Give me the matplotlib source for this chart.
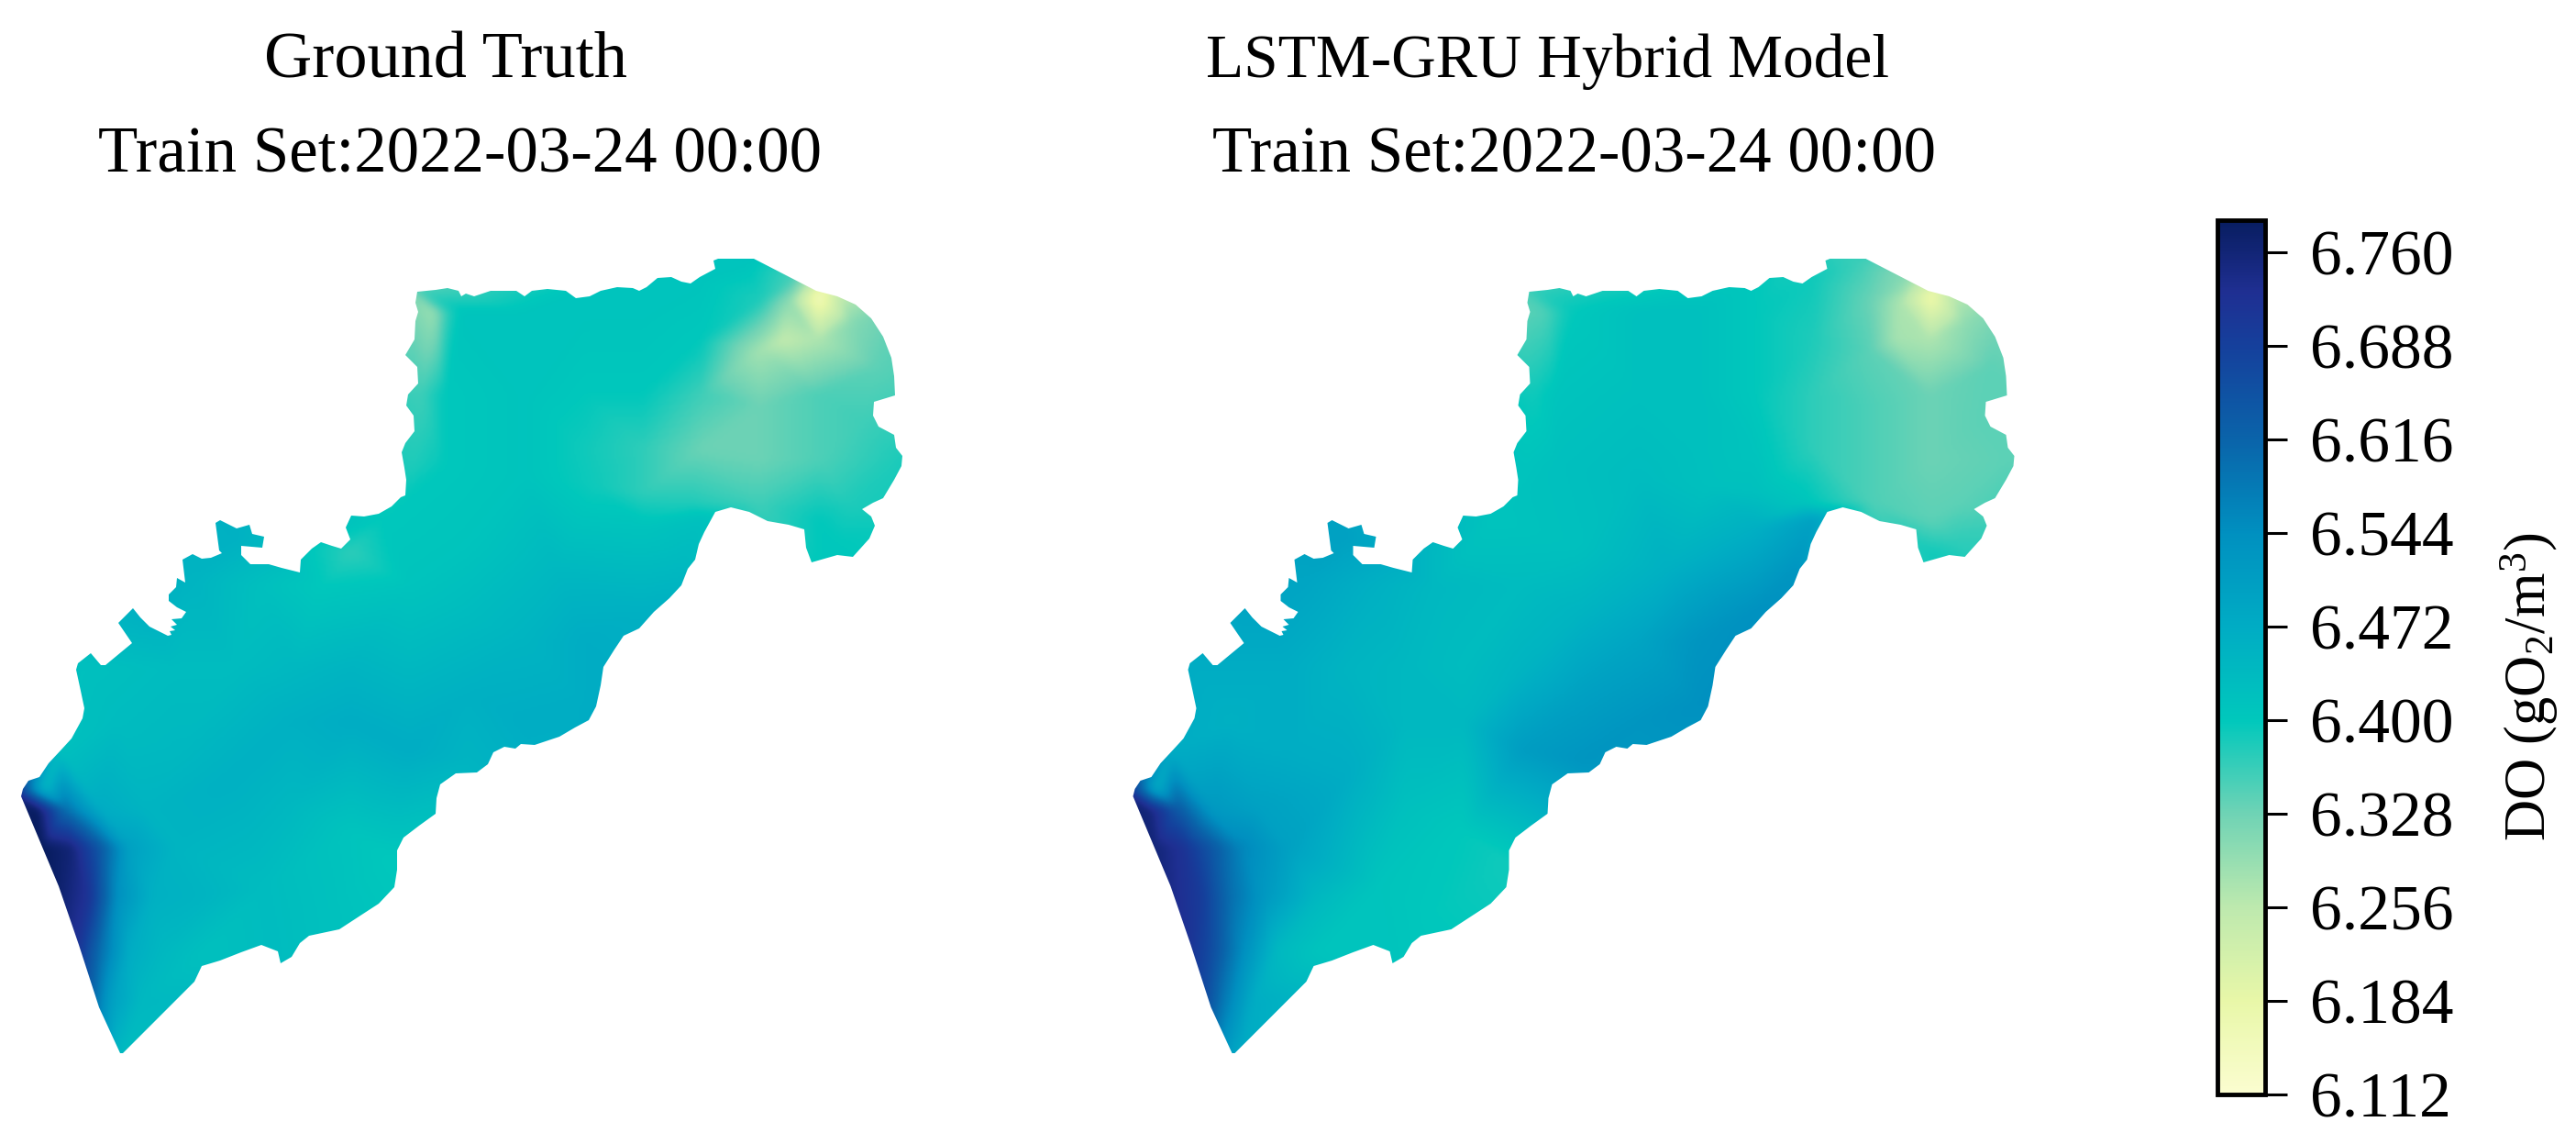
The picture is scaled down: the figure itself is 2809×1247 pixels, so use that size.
import numpy as np
import matplotlib
matplotlib.use("Agg")
import matplotlib.pyplot as plt
import matplotlib.tri as mtri
from matplotlib.colors import LinearSegmentedColormap, Normalize
from matplotlib.cm import ScalarMappable
from matplotlib.patches import Polygon

plt.rcParams['font.family'] = ['Liberation Serif', 'DejaVu Serif']
plt.rcParams['mathtext.default'] = 'regular'

W, H = 2809, 1247

titles_top = ["Ground Truth", "LSTM-GRU Hybrid Model"]
title_bottom = "Train Set:2022-03-24 00:00"
cbar_label = r"DO (gO$_2$/m$^3$)"
tick_values = [6.112, 6.184, 6.256, 6.328, 6.400, 6.472, 6.544, 6.616, 6.688, 6.760]
vmin, vmax = 6.112, 6.785

cmap_values = [6.112, 6.184, 6.256, 6.328, 6.400, 6.472, 6.544, 6.616, 6.688, 6.730, 6.785]
cmap_colors = ['#fbfdd0', '#e8f7a8', '#bde9ae', '#6fd3b5', '#00c8bc', '#00acc4',
               '#0090c0', '#0a64aa', '#15409c', '#1f2f92', '#081d60']

# coastline of the study area, map units
outline = [
 (23,868),(25,860),(31,851),(43,847),(53,832),(67,817),(78,805),(90,783),(92,772),(88,753),(83,730),(85,723),
 (99,712),(110,725),(115,725),(144,701),(129,679),(145,663),(153,673),(163,683),(183,693),(187,692),(185,688),
 (191,687),(186,683),(193,681),(187,675),(198,674),(203,667),(193,662),(184,655),(184,648),(192,640),(193,630),
 (202,635),(199,610),(210,604),(220,609),(230,608),(242,603),(239,600),(235,570),(240,567),(258,576),(272,572),
 (275,582),(288,585),(286,597),(263,595),(263,605),(273,615),(293,615),(307,619),(327,624),(328,610),(340,598),
 (350,591),(362,595),(372,598),(382,588),(377,575),(383,562),(397,563),(413,560),(427,552),(437,542),(442,540),
 (443,523),(441,510),(438,493),(442,483),(452,470),(451,453),(443,442),(445,430),(456,418),(455,400),(442,387),
 (452,370),(453,350),(456,340),(453,330),(455,318),(475,316),(488,314),(500,317),(503,323),(508,320),(517,323),
 (535,317),(563,317),(572,323),(580,317),(597,315),(617,317),(628,325),(643,323),(655,317),(673,313),(690,314),
 (697,317),(705,313),(717,303),(732,302),(743,307),(753,309),(763,302),(780,293),(778,284),(783,282),(822,282),
 (857,300),(890,317),(913,323),(933,332),(950,347),(963,367),(972,390),(975,410),(976,431),(953,438),(952,453),
 (958,465),(975,474),(977,488),(984,497),(983,508),(975,523),(963,543),(952,548),(940,555),(950,563),(954,573),
 (948,587),(930,607),(913,605),(885,613),(879,597),(877,577),(860,572),(837,568),(817,558),(797,553),(780,558),
 (768,580),(762,593),(758,610),(750,620),(743,638),(730,652),(713,667),(697,685),(680,693),(670,708),(658,727),
 (655,747),(650,770),(642,785),(627,793),(610,803),(583,812),(568,811),(562,816),(550,814),(538,820),(532,833),
 (520,842),(497,843),(480,855),(476,870),(475,887),(457,900),(440,913),(433,927),(433,948),(430,967),(413,985),
 (393,998),(370,1013),(337,1020),(327,1028),(318,1043),(306,1050),(303,1037),(285,1030),(263,1038),(240,1047),
 (220,1053),(212,1070),(134,1148),(131,1148),(108,1098),(86,1030),(64,966)]

# DO readings at sample places; positions are in a second map unit, converted below
samples_x = [20,45,75,60,110,170,250,70,120,170,220,300,100,150,200,260,350,130,170,220,280,350,160,190,240,200,220,
 100,140,200,300,400,500,600,670,450,550,250,400,330,300,450,400,500,600,700,800,500,600,700,800,900,1000,1000,900,
 800,700,550,600,650,800,950,1100,1050,1170,1200,1100,
 700,740,765,790,720,760,705,760,900,900,900,1000,1000,1000,1020,1100,1100,1100,1100,1200,1200,1200,1200,1180,
 1280,1300,1300,1300,1300,1300,1360,1400,1400,1400,1400,1400,1340,1350,1460,1500,1480,1530,1450,1440,1400,
 -30,10,100,200,360,680,1200,1300,1420,1520,1570,1570,1530,1500,1380,1180,1060,900,700,480,230,180,60,
 -200,1800,1800,-200]
samples_y = [1030,1000,1020,1060,1060,1060,1060,1130,1130,1130,1130,1130,1220,1220,1220,1220,1220,1320,1320,1320,1320,1320,1410,1410,1410,1510,1490,
 950,800,900,960,1000,1050,1100,1150,1200,1250,700,560,640,800,650,800,800,900,950,970,900,800,800,850,900,870,750,750,
 700,650,650,590,530,580,620,700,800,620,530,540,
 150,150,150,150,300,300,430,430,150,300,450,150,300,400,470,150,300,400,480,90,200,300,400,500,
 60,130,220,320,420,500,90,125,200,300,420,530,200,130,170,250,350,420,500,570,590,
 1030,960,760,660,500,90,30,30,80,150,300,430,530,620,640,720,860,1000,1200,1380,1540,1540,1300,
 -200,-200,1800,1800]
do_truth = [6.76,6.62,6.44,6.79,6.60,6.47,6.45,6.79,6.76,6.64,6.50,6.45,6.77,6.72,6.54,6.46,6.45,6.72,6.60,6.47,6.44,6.42,6.60,6.50,6.44,6.44,6.43,
 6.42,6.42,6.43,6.44,6.46,6.44,6.41,6.40,6.43,6.42,6.46,6.46,6.45,6.43,6.42,6.43,6.44,6.47,6.47,6.45,6.46,6.45,6.44,6.46,6.47,6.47,6.47,6.45,
 6.43,6.41,6.40,6.37,6.40,6.41,6.44,6.46,6.47,6.44,6.42,6.41,
 6.32,6.29,6.37,6.41,6.36,6.40,6.38,6.40,6.41,6.41,6.41,6.41,6.40,6.39,6.39,6.41,6.40,6.37,6.37,6.41,6.40,6.36,6.33,6.38,
 6.41,6.38,6.28,6.33,6.33,6.36,6.35,6.15,6.27,6.35,6.35,6.40,6.25,6.30,6.31,6.34,6.36,6.38,6.38,6.40,6.40,
 6.76,6.50,6.43,6.46,6.46,6.33,6.41,6.42,6.20,6.33,6.36,6.39,6.39,6.40,6.40,6.47,6.48,6.46,6.40,6.43,6.43,6.47,6.76,
 6.40,6.38,6.42,6.60]
do_hybrid = [6.76,6.62,6.47,6.76,6.64,6.52,6.50,6.76,6.72,6.64,6.56,6.50,6.74,6.70,6.60,6.52,6.44,6.72,6.66,6.55,6.44,6.41,6.66,6.58,6.47,6.50,6.48,
 6.47,6.47,6.46,6.47,6.47,6.42,6.40,6.39,6.41,6.40,6.49,6.50,6.49,6.47,6.46,6.45,6.44,6.44,6.51,6.53,6.44,6.43,6.45,6.50,6.53,6.54,6.53,6.49,
 6.45,6.43,6.44,6.42,6.41,6.42,6.46,6.54,6.54,6.53,6.50,6.46,
 6.34,6.35,6.38,6.40,6.39,6.41,6.41,6.42,6.42,6.42,6.43,6.42,6.42,6.42,6.42,6.40,6.40,6.41,6.42,6.39,6.38,6.37,6.37,6.41,
 6.36,6.33,6.34,6.35,6.35,6.35,6.30,6.17,6.27,6.33,6.33,6.34,6.28,6.27,6.30,6.34,6.34,6.34,6.34,6.37,6.39,
 6.76,6.50,6.47,6.49,6.50,6.35,6.38,6.37,6.22,6.32,6.34,6.34,6.36,6.38,6.38,6.53,6.54,6.52,6.39,6.41,6.47,6.55,6.74,
 6.40,6.36,6.42,6.60]

cmap = LinearSegmentedColormap.from_list(
    'do', [((v - vmin) / (vmax - vmin), c) for v, c in zip(cmap_values, cmap_colors)], N=512)
norm = Normalize(vmin, vmax)

fig = plt.figure(figsize=(W / 100, H / 100), dpi=100, facecolor='white')

def px_axes(x0, y0, x1, y1):
    return fig.add_axes([x0 / W, 1 - y1 / H, (x1 - x0) / W, (y1 - y0) / H])

map_x = np.array(samples_x) / 1.568
map_y = 250 + np.array(samples_y) / 1.675
tri = mtri.Triangulation(map_x, map_y)
gx, gy = np.meshgrid(np.arange(0, 1001, 2.0), np.arange(250, 1191, 2.0))

def smooth(z, n=5):
    k = np.ones(n) / n
    for _ in range(2):
        z = np.apply_along_axis(lambda r: np.convolve(np.pad(r, n, mode='edge'), k, mode='same')[n:-n], 0, z)
        z = np.apply_along_axis(lambda r: np.convolve(np.pad(r, n, mode='edge'), k, mode='same')[n:-n], 1, z)
    return z

for x0, vals in [(0, do_truth), (1212.5, do_hybrid)]:
    ax = px_axes(x0, 250, x0 + 1000, 1190)
    ax.set_xlim(0, 1000)
    ax.set_ylim(1190, 250)
    ax.axis('off')
    z = mtri.LinearTriInterpolator(tri, np.array(vals))(gx, gy)
    z = smooth(np.ma.filled(z, 6.42))
    m = ax.imshow(z, extent=(0, 1000, 1190, 250), origin='upper', aspect='auto',
                  cmap=cmap, norm=norm, interpolation='bilinear')
    clip = Polygon(outline, closed=True, transform=ax.transData, fc='none', ec='none')
    ax.add_patch(clip)
    m.set_clip_path(clip)

fig.text(486 / W, 1 - 67 / H, titles_top[0], ha='center', va='center', fontsize=52)
fig.text(1688 / W, 1 - 67 / H, titles_top[1], ha='center', va='center', fontsize=48.5)
for c in (502, 1717):
    fig.text(c / W, 1 - 170 / H, title_bottom, ha='center', va='center', fontsize=51)

cax = px_axes(2418, 240, 2470, 1193)
cb = fig.colorbar(ScalarMappable(norm=norm, cmap=cmap), cax=cax, ticks=tick_values)
cb.ax.set_yticklabels([f"{v:.3f}" for v in tick_values])
cb.ax.tick_params(length=17, width=2.2, labelsize=50, pad=18)
cb.outline.set_linewidth(3.5)
fig.text(2758 / W, 1 - 749 / H, cbar_label, rotation=90, ha='center', va='center', fontsize=45)

fig.savefig('out.png', dpi=100, facecolor='white')
